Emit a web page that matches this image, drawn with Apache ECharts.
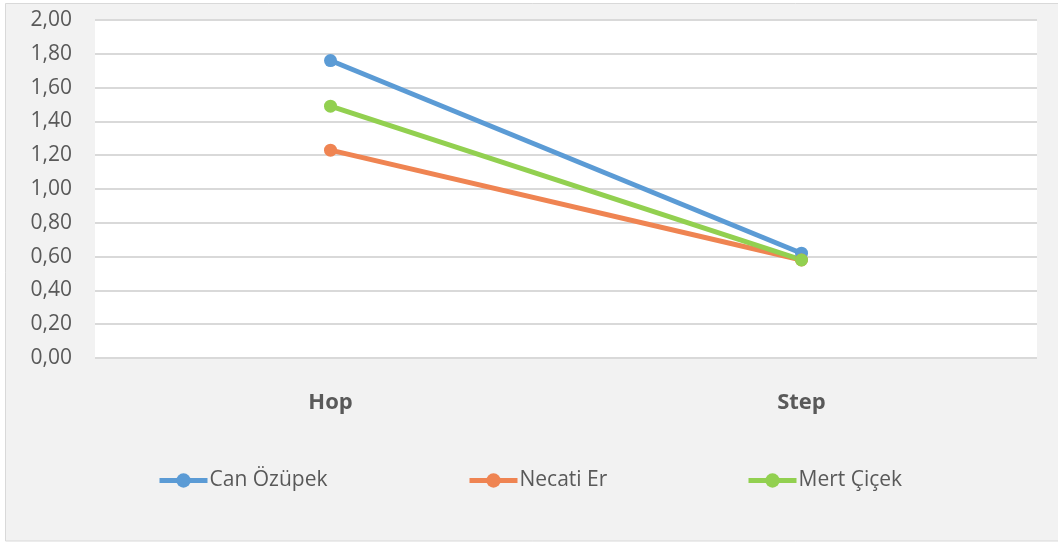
<!DOCTYPE html>
<html><head><meta charset="utf-8">
<script src="https://cdn.jsdelivr.net/npm/echarts@6/dist/echarts.min.js"></script>
<style>html,body{margin:0;padding:0;background:#fff}#c{width:1058px;height:543px}</style>
</head><body><div id="c"></div>
<script>
const categories = ['Hop', 'Step'];
const seriesNames = ['Can Özüpek', 'Necati Er', 'Mert Çiçek'];
const canOzupek = [1.76, 0.62];
const necatiEr = [1.23, 0.58];
const mertCicek = [1.49, 0.58];
const yTicks = [0, 0.2, 0.4, 0.6, 0.8, 1.0, 1.2, 1.4, 1.6, 1.8, 2.0];

const colors = ['#5B9BD5', '#EF8452', '#92D050'];
const values = [canOzupek, necatiEr, mertCicek];
const font = 'Open Sans, Liberation Sans, sans-serif';
const chart = echarts.init(document.getElementById('c'));
const legendLefts = [157, 467, 746];
chart.setOption({
  backgroundColor: 'transparent',
  animation: false,
  graphic: [{type: 'rect', z: -10, shape: {x: 5.5, y: 3.5, width: 1060, height: 537.5}, style: {fill: '#F2F2F2', stroke: '#D9D9D9', lineWidth: 1}}],
  grid: {left: 95, right: 21, top: 20, bottom: 185, show: true, backgroundColor: '#FFFFFF', borderWidth: 0},
  legend: seriesNames.map((n, i) => ({
    data: [n], left: legendLefts[i], top: 470, padding: 0, itemWidth: 48, itemHeight: 18, itemGap: 0,
    lineStyle: {width: 5}, itemStyle: {borderWidth: 0},
    textStyle: {fontFamily: font, fontSize: 21, color: '#595959', padding: [0, 0, 0, -3]}
  })),
  xAxis: {
    type: 'category', data: categories, boundaryGap: true,
    axisLine: {show: false}, axisTick: {show: false},
    axisLabel: {fontFamily: font, fontSize: 22, fontWeight: 'bold', color: '#595959', margin: 34}
  },
  yAxis: {
    type: 'value', min: yTicks[0], max: yTicks[yTicks.length - 1], interval: 0.2,
    axisLine: {show: false}, axisTick: {show: false},
    splitLine: {lineStyle: {color: '#D9D9D9', width: 2}},
    axisLabel: {fontFamily: font, fontSize: 21, color: '#595959', margin: 23,
      formatter: v => v.toFixed(2).replace('.', ',')}
  },
  series: seriesNames.map((n, i) => ({
    name: n, type: 'line', data: values[i], symbol: 'circle', symbolSize: 13,
    lineStyle: {color: colors[i], width: 5}, itemStyle: {color: colors[i]}
  }))
});
</script></body></html>
